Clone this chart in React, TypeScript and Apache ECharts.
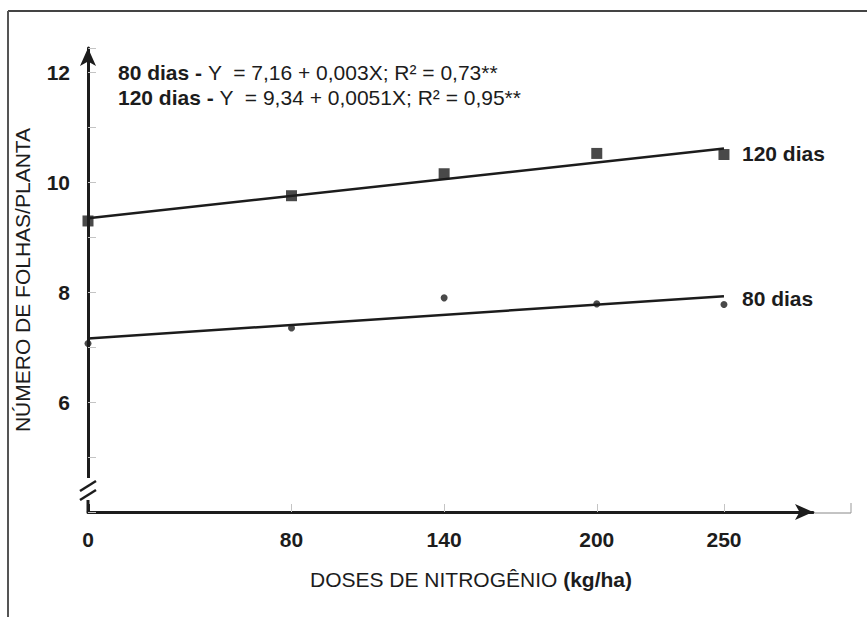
import React, { useEffect, useRef } from "react";
import * as echarts from "echarts";

const doses = [0, 80, 140, 200, 250];
const tickDoses = [80, 140, 200, 250];
const folhas120 = [9.3, 9.76, 10.16, 10.53, 10.51];
const folhas80 = [7.07, 7.35, 7.9, 7.79, 7.78];
const fitX = [0, 250];
const fit120 = [9.35, 10.62];
const fit80 = [7.16, 7.93];
const eq80 = ["80 dias - ", "Y  = 7,16 + 0,003X; R² = 0,73**"];
const eq120 = ["120 dias - ", "Y  = 9,34 + 0,0051X; R² = 0,95**"];
const xTitle = ["DOSES DE NITROGÊNIO ", "(kg/ha)"];

const FONT = "'Liberation Sans', Arial, Helvetica, sans-serif";
const INK = "#1c1c1c";
const FS = 21;

export default function App() {
  const ref = useRef<HTMLDivElement>(null);
  useEffect(() => {
    if (!ref.current) return;
    const chart = echarts.init(ref.current, undefined, { renderer: "svg" });
    const pts = (ys: number[]) => doses.map((x, i) => [x, ys[i]]);
    const fit = (ys: number[]) => fitX.map((x, i) => [x, ys[i]]);
    const mixedText = (e: string[], x: number, y: number, boldFirst: boolean) => ({
      type: "text",
      x,
      y,
      style: {
        text: `{${boldFirst ? "b" : "r"}|${e[0]}}{${boldFirst ? "r" : "b"}|${e[1]}}`,
        verticalAlign: "middle",
        rich: {
          b: { fontFamily: FONT, fontSize: FS, fontWeight: "bold", fill: INK },
          r: { fontFamily: FONT, fontSize: FS, fill: INK },
        },
      },
    });
    chart.setOption({
      animation: false,
      backgroundColor: "#fff",
      textStyle: { fontFamily: FONT },
      grid: { left: 88, right: 54, top: 48, bottom: 105, containLabel: false, outerBoundsMode: "none" },
      xAxis: {
        type: "value",
        min: 0,
        max: 285,
        axisLine: {
          show: true,
          lineStyle: { color: INK, width: 3 },
          symbol: ["none", "arrow"],
          symbolSize: [12, 18],
        },
        axisTick: {
          show: true,
          inside: true,
          length: 8,
          lineStyle: { color: "#c4c4c4", width: 1 },
          customValues: tickDoses,
        },
        axisLabel: {
          customValues: doses,
          fontFamily: FONT,
          fontSize: FS,
          fontWeight: "bold",
          color: INK,
          margin: 17,
        },
        splitLine: { show: false },
      },
      yAxis: {
        type: "value",
        min: 4,
        max: 12.45,
        interval: 2,
        name: "NÚMERO DE FOLHAS/PLANTA",
        nameLocation: "middle",
        nameGap: 55,
        nameTextStyle: { fontFamily: FONT, fontSize: FS, color: INK },
        axisLine: {
          show: true,
          lineStyle: { color: INK, width: 3 },
          symbol: ["none", "arrow"],
          symbolSize: [12, 18],
        },
        axisTick: {
          show: true,
          inside: true,
          length: 8,
          lineStyle: { color: "#c4c4c4", width: 1 },
        },
        minorTick: {
          show: true,
          splitNumber: 2,
          length: 8,
          lineStyle: { color: "#c4c4c4", width: 1 },
        },
        axisLabel: {
          formatter: (v: number) => (v === 4 || v % 2 !== 0 ? "" : String(v)),
          showMaxLabel: false,
          fontFamily: FONT,
          fontSize: FS,
          fontWeight: "bold",
          color: INK,
          margin: 18,
        },
        splitLine: { show: false },
        minorSplitLine: { show: false },
      },
      series: [
        {
          name: "120 dias",
          type: "line",
          data: fit(fit120),
          showSymbol: false,
          symbol: "none",
          lineStyle: { color: INK, width: 2.5 },
          endLabel: {
            show: true,
            formatter: "{a}",
            distance: 18,
            offset: [0, 5],
            fontFamily: FONT,
            fontSize: FS,
            fontWeight: "bold",
            color: INK,
          },
          z: 2,
        },
        {
          name: "80 dias",
          type: "line",
          data: fit(fit80),
          showSymbol: false,
          symbol: "none",
          lineStyle: { color: INK, width: 2.5 },
          endLabel: {
            show: true,
            formatter: "{a}",
            distance: 18,
            offset: [0, 2],
            fontFamily: FONT,
            fontSize: FS,
            fontWeight: "bold",
            color: INK,
          },
          z: 2,
        },
        {
          name: "pts120",
          type: "scatter",
          data: pts(folhas120),
          symbol: "rect",
          symbolSize: 11,
          itemStyle: { color: INK },
          z: 3,
        },
        {
          name: "pts80",
          type: "scatter",
          data: pts(folhas80),
          symbol: "circle",
          symbolSize: 7,
          itemStyle: { color: INK },
          z: 3,
        },
      ],
      graphic: [
        mixedText(eq80, 118, 72, true),
        mixedText(eq120, 118, 97, true),
        mixedText(xTitle, 310, 579, false),
        { type: "rect", shape: { x: 82, y: 478, width: 12, height: 26 }, style: { fill: "#fff" }, z: 100 },
        { type: "line", shape: { x1: 80, y1: 491, x2: 96, y2: 481 }, style: { stroke: INK, lineWidth: 2.5 }, z: 101 },
        { type: "line", shape: { x1: 80, y1: 500, x2: 96, y2: 490 }, style: { stroke: INK, lineWidth: 2.5 }, z: 101 },
        { type: "line", shape: { x1: 88, y1: 500, x2: 88, y2: 512 }, style: { stroke: INK, lineWidth: 3 }, z: 101 },
        { type: "line", shape: { x1: 8, y1: 11, x2: 867, y2: 11 }, style: { stroke: "#444", lineWidth: 2 }, z: 50 },
        { type: "line", shape: { x1: 8, y1: 11, x2: 8, y2: 617 }, style: { stroke: "#555", lineWidth: 2 }, z: 50 },
        { type: "line", shape: { x1: 815, y1: 513, x2: 851, y2: 513 }, style: { stroke: "#888", lineWidth: 1 }, z: 50 },
        { type: "line", shape: { x1: 851, y1: 503, x2: 851, y2: 513 }, style: { stroke: "#999", lineWidth: 1 }, z: 50 },
      ],
    });
    return () => chart.dispose();
  }, []);
  return (
    <div
      ref={ref}
      style={{ position: "fixed", left: 0, top: 0, width: 867, height: 617, background: "#fff" }}
    />
  );
}
